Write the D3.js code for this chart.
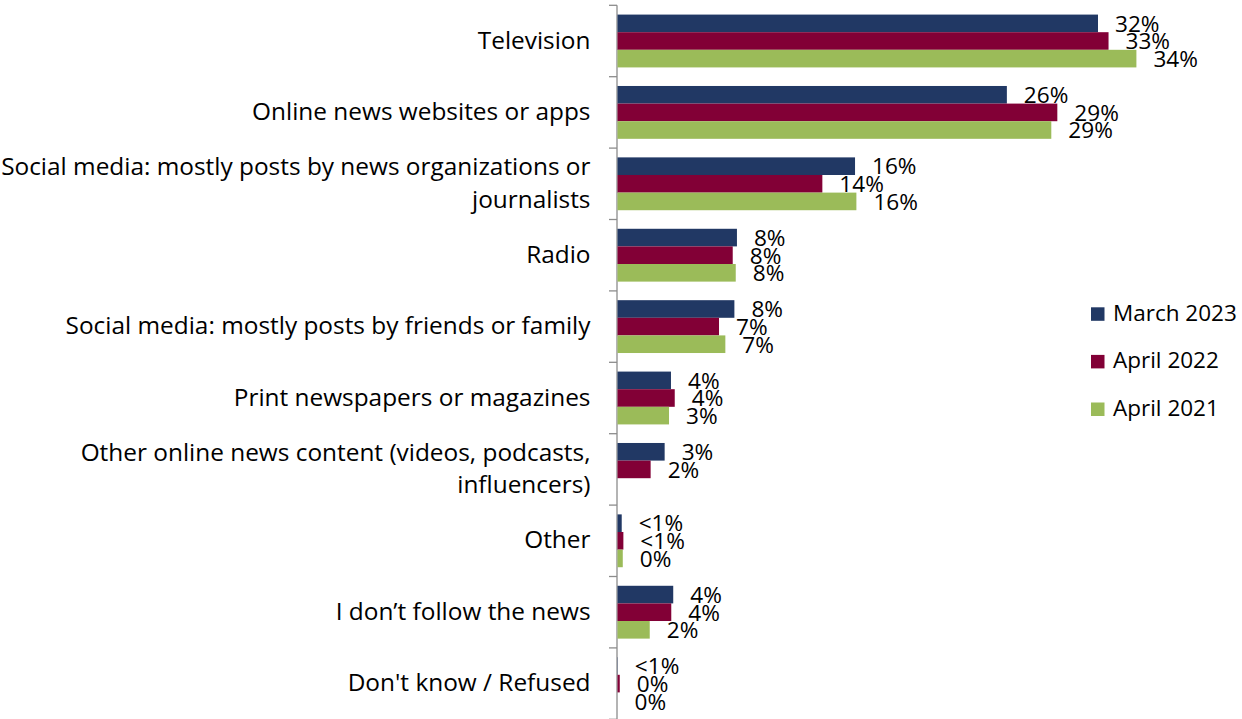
<!DOCTYPE html>
<html>
<head>
<meta charset="utf-8">
<script src="https://cdn.jsdelivr.net/npm/d3@7"></script>
<style>
  html, body { margin: 0; padding: 0; background: #ffffff; }
  svg { display: block; }
  text { font-family: "Open Sans", "Noto Sans", sans-serif; fill: #000; }
</style>
</head>
<body>
<svg id="chart" width="1242" height="719"></svg>
<script>
const categories = [
  ["Television"],
  ["Online news websites or apps"],
  ["Social media: mostly posts by news organizations or", "journalists"],
  ["Radio"],
  ["Social media: mostly posts by friends or family"],
  ["Print newspapers or magazines"],
  ["Other online news content (videos, podcasts,", "influencers)"],
  ["Other"],
  ["I don\u2019t follow the news"],
  ["Don't know / Refused"]
];
const seriesNames = ["March 2023", "April 2022", "April 2021"];
const march2023 = [31.9, 25.85, 15.77, 7.93, 7.76, 3.55, 3.13, 0.28, 3.7, 0.02];
const april2022 = [32.6, 29.2, 13.6, 7.65, 6.74, 3.8, 2.2, 0.39, 3.57, 0.15];
const april2021 = [34.45, 28.8, 15.86, 7.85, 7.16, 3.42, null, 0.35, 2.14, 0];
const labelsMarch2023 = ["32%", "26%", "16%", "8%", "8%", "4%", "3%", "<1%", "4%", "<1%"];
const labelsApril2022 = ["33%", "29%", "14%", "8%", "7%", "4%", "2%", "<1%", "4%", "0%"];
const labelsApril2021 = ["34%", "29%", "16%", "8%", "7%", "3%", "", "0%", "2%", "0%"];
const colors = ["#213864", "#820036", "#9BBB59"];

const values = [march2023, april2022, april2021];
const labels = [labelsMarch2023, labelsApril2022, labelsApril2021];

const svg = d3.select("#chart");
const catIdx = d3.range(categories.length);

const x = d3.scaleLinear().domain([0, 40]).range([617.5, 1220]);
const y0 = d3.scaleBand().domain(catIdx).range([5.3, 719.3]).paddingInner(0.26).paddingOuter(0.13);
const y1 = d3.scaleBand().domain(d3.range(3)).range([0, y0.bandwidth()]).padding(0);

// axis line + ticks between categories
const axisG = svg.append("g");
axisG.append("line")
  .attr("x1", x(0) - 0.5).attr("x2", x(0) - 0.5)
  .attr("y1", y0.range()[0]).attr("y2", y0.range()[1])
  .attr("stroke", "#8c8c8c").attr("stroke-width", 1.3);
const half = (y0.step() - y0.bandwidth()) / 2;
const boundaries = catIdx.map(i => y0(i) - half).concat([y0(categories.length - 1) + y0.bandwidth() + half]);
axisG.selectAll("line.tick").data(boundaries).join("line")
  .attr("class", "tick")
  .attr("x1", x(0) - 8.5).attr("x2", x(0) - 0.5)
  .attr("y1", d => d).attr("y2", d => d)
  .attr("stroke", "#8c8c8c").attr("stroke-width", 1.3);

// category labels
const catG = svg.append("g");
catIdx.forEach(i => {
  const lines = categories[i];
  const cy = y0(i) + y0.bandwidth() / 2 + 7.5;
  const lh = 32.6;
  const start = cy - (lines.length - 1) * lh / 2;
  const t = catG.append("text")
    .attr("text-anchor", "end")
    .attr("font-size", "24.4px");
  lines.forEach((ln, j) => {
    t.append("tspan").attr("x", 590.5).attr("y", start + j * lh).text(ln);
  });
});

// bars
const barG = svg.append("g");
values.forEach((vals, s) => {
  barG.selectAll("rect.s" + s).data(catIdx.filter(i => vals[i] !== null)).join("rect")
    .attr("class", "s" + s)
    .attr("x", x(0))
    .attr("y", i => y0(i) + y1(s))
    .attr("width", i => Math.max(0, x(vals[i]) - x(0)))
    .attr("height", y1.bandwidth())
    .attr("fill", colors[s]);
});

// data labels
const lblG = svg.append("g");
values.forEach((vals, s) => {
  lblG.selectAll("text.l" + s).data(catIdx.filter(i => vals[i] !== null && labels[s][i] !== "")).join("text")
    .attr("class", "l" + s)
    .attr("x", i => x(vals[i]) + 17)
    .attr("y", i => y0(i) + y1(s) + y1.bandwidth() - 0.5)
    .attr("font-size", "22.6px")
    .text(i => labels[s][i]);
});

// legend
const legG = svg.append("g");
seriesNames.forEach((name, s) => {
  const top = 307.3 + s * 47.6;
  legG.append("rect")
    .attr("x", 1091).attr("y", top)
    .attr("width", 13.5).attr("height", 13.5)
    .attr("fill", colors[s]);
  legG.append("text")
    .attr("x", 1113).attr("y", top + 13.5)
    .attr("font-size", "22.5px")
    .text(name);
});
</script>
</body>
</html>
